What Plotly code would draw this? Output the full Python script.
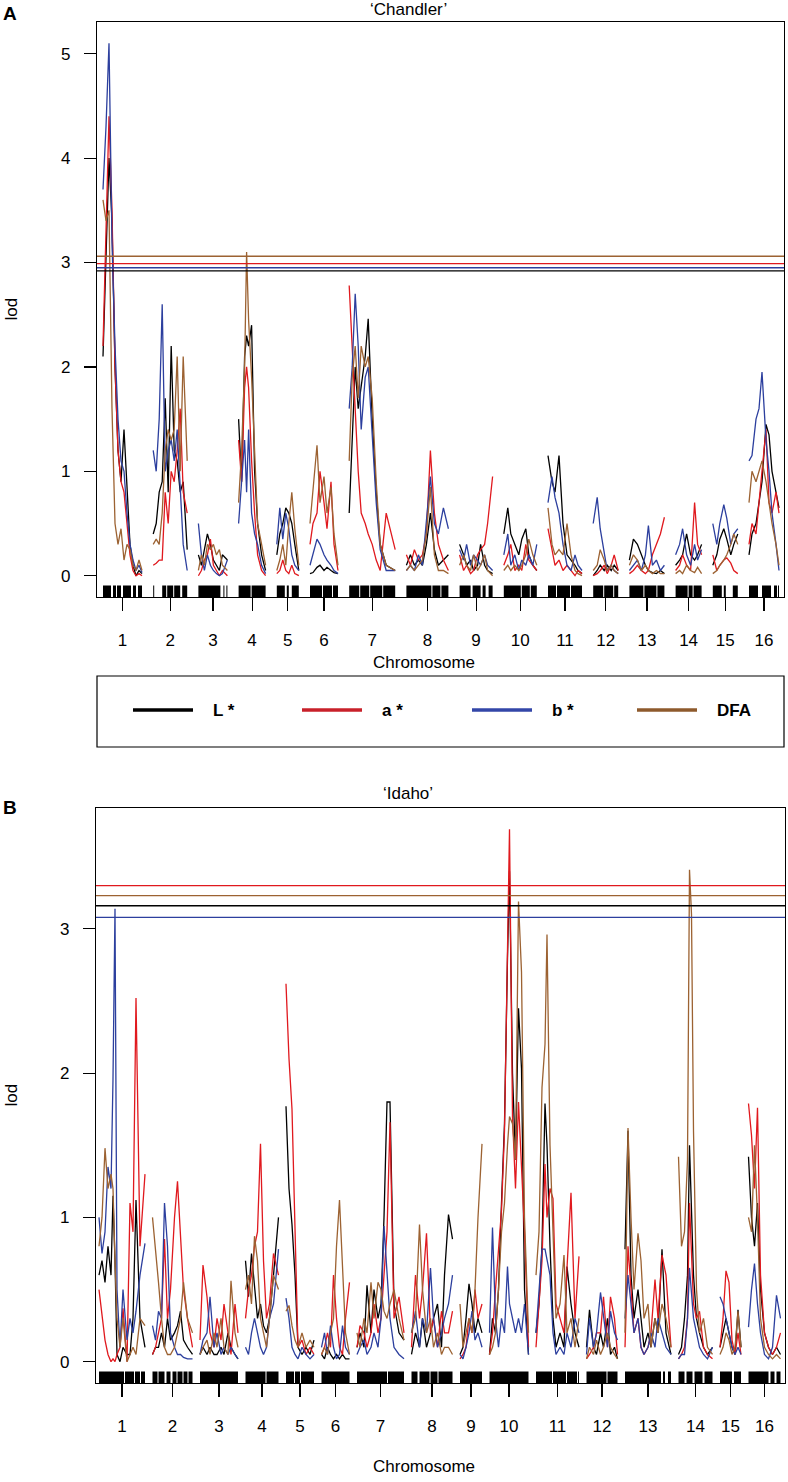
import plotly.graph_objects as go

W, H = 788, 1482
FONT = "Liberation Sans, Arial, Helvetica, sans-serif"
SERIES = ["L *", "a *", "b *", "DFA"]
LINE_COLORS = ["#000000", "#E0191E", "#2C3F9E", "#9C6232"]
LEGEND_COLORS = ["#000000", "#C8202A", "#3346A8", "#8E5A2C"]
CHROMS = [str(i) for i in range(1, 17)]

# ---------------- Panel A : 'Chandler' ----------------
A_title = "\u2018Chandler\u2019"
A_chr_len = [39, 34, 29, 27, 22, 28, 46, 42, 33, 33, 34, 25, 35, 26, 25, 30]
A_gap = 11.2
A_pos = [
    "0 3 6 9 12 15 18 21 24 27 30 33 36 39",
    "0 3 6 9 12 15 18 21 24 27 30 34",
    "0 3 6 9 12 15 18 21 24 29",
    "0 3 6 8 10 13 16 19 23 27",
    "0 3 6 9 12 15 18 22",
    "0 3 7 10 14 17 21 24 28",
    "0 3 6 9 12 16 19 23 27 31 37 46",
    "0 4 8 12 16 20 24 28 32 37 42",
    "0 4 7 11 14 18 21 25 28 33",
    "0 4 7 11 15 18 22 25 29 33",
    "0 4 7 11 15 19 23 27 30 34",
    "0 4 7 11 14 18 21 25",
    "0 4 8 12 16 19 23 27 31 35",
    "0 4 7 11 15 19 22 26",
    "0 4 7 11 14 18 21 25",
    "0 3 7 10 13 17 20 23 27 30",
]
A_L = [
    "2.1 3.0 4.0 3.4 2.0 1.2 0.9 1.4 0.8 0.3 0.1 0.0 0.05 0.02",
    "0.4 0.5 0.8 0.9 1.7 0.8 2.2 1.2 1.1 0.8 0.9 0.25",
    "0.2 0.1 0.25 0.4 0.3 0.15 0.1 0.05 0.2 0.15",
    "1.5 0.9 2.1 2.3 2.2 2.4 1.0 0.5 0.2 0.05",
    "0.2 0.4 0.5 0.65 0.6 0.5 0.3 0.05",
    "0.02 0.03 0.08 0.1 0.05 0.08 0.05 0.03 0.02",
    "0.6 1.3 2.0 1.6 1.8 2.1 2.46 1.5 0.8 0.3 0.1 0.05",
    "0.1 0.2 0.1 0.15 0.1 0.3 0.6 0.25 0.1 0.15 0.2",
    "0.3 0.2 0.1 0.15 0.05 0.1 0.3 0.1 0.05 0.02",
    "0.4 0.65 0.4 0.3 0.2 0.35 0.45 0.2 0.1 0.05",
    "1.15 0.9 0.8 1.15 0.5 0.2 0.15 0.1 0.05 0.02",
    "0.0 0.05 0.1 0.05 0.1 0.05 0.1 0.05",
    "0.15 0.35 0.3 0.2 0.1 0.05 0.03 0.02 0.05 0.02",
    "0.1 0.15 0.2 0.4 0.2 0.15 0.2 0.3",
    "0.1 0.2 0.35 0.45 0.35 0.2 0.3 0.4",
    "0.2 0.4 0.5 0.7 0.9 1.45 1.35 1.0 0.8 0.65",
]
A_a = [
    "2.2 3.3 4.4 3.5 2.0 1.2 0.9 0.8 0.5 0.2 0.05 0.0 0.02 0.0",
    "0.1 0.12 0.15 0.15 0.8 0.5 1.0 0.9 1.2 1.6 0.8 0.6",
    "0.0 0.05 0.15 0.2 0.35 0.1 0.05 0.0 0.05 0.0",
    "1.3 0.9 1.8 2.0 1.8 1.1 0.6 0.2 0.05 0.0",
    "0.02 0.05 0.15 0.05 0.02 0.1 0.02 0.0",
    "0.3 0.5 0.6 1.0 0.7 0.45 0.9 0.3 0.05",
    "2.78 2.2 1.6 1.0 0.6 0.5 0.4 0.3 0.15 0.05 0.6 0.25",
    "0.2 0.1 0.25 0.15 0.2 0.4 1.2 0.6 0.3 0.15 0.05",
    "0.2 0.05 0.1 0.02 0.05 0.2 0.25 0.3 0.5 0.95",
    "0.1 0.2 0.3 0.05 0.1 0.05 0.3 0.15 0.1 0.05",
    "0.45 0.25 0.1 0.15 0.05 0.1 0.05 0.0 0.05 0.02",
    "0.0 0.02 0.05 0.1 0.02 0.1 0.2 0.05",
    "0.02 0.05 0.1 0.05 0.02 0.05 0.2 0.3 0.4 0.56",
    "0.05 0.1 0.2 0.1 0.05 0.7 0.3 0.2",
    "0.2 0.05 0.1 0.15 0.17 0.12 0.05 0.02",
    "0.3 0.5 0.4 0.7 1.0 1.4 0.7 0.6 0.8 0.6",
]
A_b = [
    "3.7 4.3 5.1 3.2 2.2 1.5 1.1 1.0 0.6 0.3 0.15 0.05 0.1 0.03",
    "1.2 1.0 1.5 2.6 1.0 1.2 1.3 1.1 1.4 0.9 0.3 0.05",
    "0.5 0.2 0.05 0.2 0.1 0.05 0.02 0.0 0.02 0.15",
    "0.5 0.9 1.3 0.8 1.4 0.6 0.4 0.3 0.1 0.02",
    "0.3 0.65 0.35 0.6 0.45 0.2 0.1 0.05",
    "0.1 0.2 0.35 0.3 0.2 0.15 0.1 0.05 0.02",
    "1.6 2.0 2.7 2.2 1.4 1.9 2.0 1.4 0.7 0.25 0.05 0.05",
    "0.05 0.1 0.05 0.2 0.1 0.5 0.95 0.5 0.4 0.65 0.45",
    "0.25 0.15 0.3 0.1 0.2 0.15 0.1 0.2 0.1 0.05",
    "0.2 0.4 0.1 0.2 0.05 0.15 0.1 0.2 0.1 0.3",
    "0.7 0.95 0.75 0.6 0.3 0.1 0.05 0.2 0.1 0.05",
    "0.5 0.75 0.45 0.2 0.05 0.1 0.05 0.02",
    "0.05 0.1 0.15 0.05 0.2 0.48 0.1 0.15 0.05 0.1",
    "0.2 0.3 0.45 0.2 0.1 0.3 0.15 0.25",
    "0.5 0.3 0.5 0.68 0.55 0.3 0.4 0.45",
    "1.1 1.15 1.5 1.6 1.95 1.3 1.0 0.6 0.3 0.05",
]
A_DFA = [
    "3.6 3.4 3.5 1.6 0.5 0.3 0.45 0.15 0.3 0.25 0.1 0.05 0.15 0.05",
    "0.3 0.35 0.3 0.6 1.2 1.4 1.3 1.4 2.1 1.0 2.1 1.1",
    "0.05 0.2 0.1 0.3 0.25 0.3 0.2 0.25 0.1 0.05",
    "0.7 1.2 2.0 3.1 2.45 1.9 1.2 0.5 0.3 0.1",
    "0.05 0.15 0.3 0.1 0.5 0.8 0.45 0.1",
    "0.5 0.8 1.25 0.7 0.95 0.6 0.85 0.4 0.1",
    "1.1 1.9 2.2 1.7 2.2 2.0 2.1 1.7 0.9 0.3 0.1 0.05",
    "0.05 0.1 0.05 0.1 0.15 0.4 0.85 0.2 0.05 0.05 0.02",
    "0.1 0.2 0.1 0.05 0.2 0.05 0.1 0.2 0.05 0.0",
    "0.05 0.1 0.05 0.1 0.05 0.1 0.2 0.35 0.2 0.1",
    "0.65 0.3 0.2 0.25 0.2 0.5 0.2 0.05 0.02 0.0",
    "0.05 0.1 0.25 0.15 0.05 0.1 0.05 0.02",
    "0.1 0.2 0.15 0.05 0.1 0.05 0.02 0.05 0.02 0.02",
    "0.02 0.05 0.02 0.1 0.05 0.03 0.08 0.02",
    "0.02 0.05 0.1 0.15 0.2 0.3 0.4 0.3",
    "0.7 1.0 0.9 1.0 1.1 0.9 0.7 0.5 0.3 0.1",
]
A_markers = [
    "0-8 10-13 14-18 20-28 30-33 35-39",
    "0-1 9-13 14-20 21-27 29-34",
    "0-22 25-26 28-29",
    "0-12 13-27",
    "0-8 10-12 15-22",
    "0-12 13-22 23-28",
    "0-10 11-20 21-33 34-46",
    "0-25 26-34 35-42",
    "0-11 13-21 23-26 29-33",
    "0-17 18-26 27-33",
    "0-8 9-22 23-34",
    "0-10 11-20 21-25",
    "0-14 15-27 28-35",
    "0-12 13-17 18-26",
    "0-9 11-13 20-25",
    "0-9 13-22 25-28 29-30",
]
A_thresholds = [2.92, 2.99, 2.95, 3.06]   # L*, a*, b*, DFA
A_lod_max = 5.1

# ---------------- Panel B : 'Idaho' ----------------
B_title = "\u2018Idaho\u2019"
B_chr_len = [46, 40, 38, 33, 28, 28, 47, 41, 22, 39, 43, 31, 46, 34, 21, 32]
B_gap = 7.5
B_pos = [
    "0 3 6 9 12 14 16 18 21 24 28 31 34 37 41 46",
    "0 3 6 9 12 15 18 22 25 28 31 35 40",
    "0 3 7 10 14 17 21 24 28 31 35 38",
    "0 3 6 9 12 15 18 21 24 28 33",
    "0 3 6 9 12 16 20 24 28",
    "0 3 6 9 12 15 18 21 24 28",
    "0 3 7 10 14 17 21 24 27 30 33 37 42 47",
    "0 4 8 11 15 19 22 26 30 33 37 41",
    "0 3 6 9 12 15 18 22",
    "0 3 6 9 12 15 18 20 23 26 29 32 35 39",
    "0 3 6 9 11 14 17 20 24 28 31 35 39 43",
    "0 3 7 10 14 17 21 24 28 31",
    "0 3 6 9 13 16 19 23 26 30 33 37 41 46",
    "0 3 6 9 11 13 15 18 21 25 29 34",
    "0 3 6 9 12 15 18 21",
    "0 3 6 9 12 16 20 24 28 32",
]
B_L = [
    "0.6 0.7 0.55 0.8 0.6 1.15 0.7 0.05 0.0 0.1 0.05 0.05 0.3 1.12 0.3 0.1",
    "0.05 0.1 0.1 0.2 0.1 0.3 0.15 0.2 0.25 0.35 0.15 0.1 0.05",
    "0.05 0.1 0.05 0.1 0.05 0.05 0.1 0.05 0.2 0.1 0.05 0.02",
    "0.7 0.45 0.75 0.5 0.3 0.4 0.25 0.2 0.3 0.6 1.0",
    "1.77 1.2 0.95 0.6 0.1 0.05 0.1 0.05 0.15",
    "0.05 0.02 0.1 0.05 0.02 0.05 0.02 0.05 0.02 0.02",
    "0.1 0.2 0.1 0.53 0.2 0.5 0.3 0.4 1.0 1.8 1.8 0.4 0.2 0.15",
    "0.05 0.2 0.1 0.3 0.1 0.2 0.3 0.4 0.1 0.6 1.02 0.85",
    "0.05 0.1 0.3 0.54 0.4 0.2 0.3 0.2",
    "0.05 0.3 0.2 0.5 1.1 1.65 2.8 3.4 2.0 1.4 2.45 2.03 0.5 0.05",
    "0.2 0.4 0.8 1.79 1.5 0.8 0.3 0.1 0.2 0.1 0.66 0.4 0.2 0.1",
    "0.1 0.36 0.1 0.05 0.2 0.1 0.3 0.05 0.1 0.02",
    "0.78 1.6 0.6 0.3 0.5 0.3 0.1 0.2 0.1 0.3 0.2 0.78 0.2 0.05",
    "0.05 0.1 0.3 0.6 1.5 1.0 0.6 0.3 0.2 0.1 0.05 0.1",
    "0.1 0.2 0.3 0.2 0.1 0.05 0.36 0.1",
    "1.42 1.0 0.8 1.1 0.5 0.2 0.1 0.05 0.1 0.05",
]
B_a = [
    "0.5 0.3 0.15 0.05 0.0 0.02 0.0 0.05 0.1 0.37 0.0 1.1 0.9 2.52 0.8 1.3",
    "0.05 0.1 0.2 0.3 0.85 0.3 0.5 1.0 1.25 0.9 0.5 0.3 0.1",
    "0.15 0.67 0.45 0.2 0.1 0.3 0.15 0.4 0.2 0.05 0.4 0.2",
    "0.3 0.5 0.6 0.8 0.9 1.51 0.7 0.3 0.4 0.75 0.6",
    "2.62 2.1 1.75 0.9 0.1 0.15 0.05 0.1 0.05",
    "0.05 0.1 0.2 0.1 0.6 0.3 0.1 0.05 0.3 0.55",
    "0.1 0.25 0.2 0.1 0.2 0.4 0.2 0.3 0.6 0.9 1.66 0.3 0.45 0.2",
    "0.1 0.6 0.3 0.5 0.89 0.2 0.3 0.1 0.35 0.2 0.2 0.35",
    "0.02 0.05 0.1 0.3 0.2 0.5 0.3 0.4",
    "0.05 0.2 0.5 0.8 1.05 1.6 2.9 3.69 1.7 1.2 1.8 1.4 0.9 0.1",
    "0.1 0.4 0.7 1.37 1.0 1.2 1.13 0.4 0.3 0.2 0.65 1.17 0.3 0.73",
    "0.02 0.05 0.1 0.2 0.2 0.45 0.1 0.45 0.3 0.05",
    "0.1 0.8 0.5 0.2 0.3 0.1 0.05 0.1 0.2 0.57 0.3 0.74 0.6 0.1",
    "0.02 0.05 0.1 0.3 1.1 0.8 0.4 0.3 0.35 0.1 0.05 0.02",
    "0.1 0.3 0.63 0.55 0.15 0.05 0.2 0.05",
    "1.79 1.57 1.2 1.76 0.6 0.2 0.1 0.05 0.1 0.2",
]
B_b = [
    "1.0 0.75 0.9 1.35 1.2 1.96 3.14 0.5 0.1 0.5 0.15 0.3 0.2 0.35 0.6 0.82",
    "0.25 0.15 0.35 0.3 1.1 0.8 0.2 0.1 0.05 0.05 0.03 0.02 0.02",
    "0.05 0.15 0.2 0.45 0.1 0.2 0.05 0.1 0.05 0.1 0.05 0.02",
    "0.1 0.05 0.2 0.3 0.2 0.1 0.05 0.1 0.3 0.4 0.78",
    "0.44 0.3 0.1 0.05 0.02 0.1 0.05 0.02 0.05",
    "0.1 0.2 0.05 0.25 0.1 0.02 0.05 0.25 0.1 0.05",
    "0.05 0.1 0.15 0.05 0.1 0.2 0.1 0.3 0.94 0.6 0.3 0.1 0.05 0.02",
    "0.2 0.35 0.1 0.3 0.2 0.65 0.3 0.1 0.2 0.3 0.4 0.6",
    "0.05 0.02 0.1 0.2 0.35 0.15 0.2 0.1",
    "0.2 0.93 0.3 0.1 0.3 0.2 0.66 0.4 0.3 0.2 0.3 0.2 0.4 0.05",
    "0.2 0.5 0.78 0.78 0.7 0.6 0.2 0.05 0.1 0.05 0.2 0.1 0.3 0.2",
    "0.05 0.3 0.1 0.2 0.48 0.3 0.1 0.35 0.2 0.15",
    "0.3 0.6 0.4 0.2 0.3 0.1 0.05 0.1 0.2 0.1 0.3 0.2 0.1 0.05",
    "0.02 0.05 0.05 0.3 0.65 0.5 0.3 0.2 0.1 0.05 0.02 0.1",
    "0.45 0.4 0.3 0.2 0.1 0.05 0.1 0.05",
    "0.24 0.5 0.68 0.4 0.2 0.05 0.02 0.1 0.46 0.3",
]
B_DFA = [
    "0.8 1.0 1.48 1.2 1.3 1.2 0.7 0.3 0.1 0.3 0.0 0.05 0.1 0.05 0.3 0.25",
    "1.0 0.8 0.55 0.3 0.1 0.05 0.05 0.1 0.2 0.3 0.55 0.3 0.2",
    "0.05 0.1 0.15 0.05 0.2 0.1 0.3 0.1 0.05 0.56 0.2 0.1",
    "0.5 0.6 0.4 0.87 0.7 0.3 0.2 0.1 0.3 0.6 0.5",
    "0.35 0.39 0.25 0.15 0.1 0.2 0.1 0.15 0.1",
    "0.05 0.1 0.05 0.2 0.3 0.8 1.12 0.6 0.2 0.05",
    "0.2 0.1 0.3 0.2 0.55 0.3 0.55 0.5 0.35 0.3 0.4 0.5 0.3 0.15",
    "0.2 0.3 0.95 0.5 0.2 0.3 0.1 0.2 0.05 0.1 0.1 0.05",
    "0.4 0.1 0.2 0.3 0.2 0.5 1.0 1.51",
    "0.05 0.1 0.2 0.5 0.9 1.1 1.5 1.7 1.65 1.4 3.19 2.7 1.0 0.2",
    "0.6 0.9 1.9 2.2 2.96 1.5 0.9 0.3 0.4 0.74 0.2 0.3 0.1 0.3",
    "0.02 0.1 0.05 0.15 0.05 0.1 0.2 0.1 0.05 0.02",
    "0.2 1.62 1.0 0.5 0.89 0.7 0.3 0.4 0.1 0.3 0.2 0.4 0.3 0.1",
    "1.42 0.8 0.9 1.4 3.41 3.1 1.6 0.5 0.2 0.3 0.1 0.05",
    "0.05 0.1 0.2 0.15 0.05 0.1 0.35 0.1",
    "1.0 0.9 1.5 1.0 0.3 0.1 0.05 0.02 0.05 0.02",
]
B_markers = [
    "0-25 26-35 36-41 42-46",
    "0-5 6-12 14-18 20-24 25-30 31-35 36-40",
    "0-38",
    "0-20 21-33",
    "0-8 9-14 15-28",
    "0-28",
    "0-30 31-47",
    "0-6 8-18 19-26 27-41",
    "0-22",
    "0-39",
    "0-16 17-30 31-41 42-43",
    "0-20 21-31",
    "0-36 38-40 43-46",
    "0-6 8-14 16-24 26-34",
    "0-12 14-21",
    "0-20 22-26 28-32",
]
B_thresholds = [3.16, 3.30, 3.08, 3.23]   # L*, a*, b*, DFA
B_lod_max = 3.69


def parse(s):
    return [float(v) for v in s.split()]


def chrom_starts(lengths, gap):
    starts, s = [], 0.0
    for L in lengths:
        starts.append(s)
        s += L + gap
    return starts


def build_line(pos, vals, starts):
    xs, ys = [], []
    for c in range(len(starts)):
        p, v = parse(pos[c]), parse(vals[c])
        n = min(len(p), len(v))
        xs += [starts[c] + q for q in p[:n]] + [None]
        ys += v[:n] + [None]
    return xs, ys


def build_rug(blocks, starts, y0, y1):
    xs, ys = [], []
    for c in range(len(starts)):
        for b in blocks[c].split():
            a, e = (float(t) for t in b.split("-"))
            x0, x1 = starts[c] + a, starts[c] + e
            xs += [x0, x1, x1, x0, x0, None]
            ys += [y0, y0, y1, y1, y0, None]
    return xs, ys


def px_x(x):
    return x / W


def px_y(y):
    return 1 - y / H


panels = [
    dict(title=A_title, lens=A_chr_len, gap=A_gap, pos=A_pos,
         series=[A_L, A_a, A_b, A_DFA], markers=A_markers, thr=A_thresholds,
         lmax=A_lod_max, box=(97, 22, 784, 597), pad=(6, 5), yt=[0, 1, 2, 3, 4, 5],
         sfx="", title_y=10, xlab_y=662, lab="A", lab_y=13),
    dict(title=B_title, lens=B_chr_len, gap=B_gap, pos=B_pos,
         series=[B_L, B_a, B_b, B_DFA], markers=B_markers, thr=B_thresholds,
         lmax=B_lod_max, box=(96, 808, 785, 1383), pad=(3, 4.5), yt=[0, 1, 2, 3],
         sfx="2", title_y=793, xlab_y=1466, lab="B", lab_y=807),
]

fig = go.Figure()
shapes, annotations = [], []
layout_axes = {}


def ann(text, x, y, size=17, bold=False, angle=0, xanchor="center"):
    if bold:
        text = "<b>" + text + "</b>"
    annotations.append(dict(text=text, x=px_x(x), y=px_y(y), xref="paper", yref="paper",
                            showarrow=False, xanchor=xanchor, yanchor="middle",
                            textangle=angle, font=dict(size=size, color="black", family=FONT)))


for P in panels:
    starts = chrom_starts(P["lens"], P["gap"])
    end = starts[-1] + P["lens"][-1]
    mids = [s + L / 2 for s, L in zip(starts, P["lens"])]
    ylo = -0.04 * P["lmax"]
    yhi = P["lmax"] * 1.04
    xa, ya = "x" + P["sfx"], "y" + P["sfx"]

    # marker rug along the bottom
    rx, ry = build_rug(P["markers"], starts, ylo, ylo + 0.02 * (yhi - ylo))
    fig.add_trace(go.Scatter(x=rx, y=ry, mode="lines", fill="toself", fillcolor="black",
                             line=dict(width=0, color="black"), xaxis=xa, yaxis=ya,
                             showlegend=False, hoverinfo="skip"))
    # LOD curves
    for name, vals, col in zip(SERIES, P["series"], LINE_COLORS):
        lx, ly = build_line(P["pos"], vals, starts)
        fig.add_trace(go.Scatter(x=lx, y=ly, mode="lines", name=name,
                                 line=dict(color=col, width=1.3),
                                 xaxis=xa, yaxis=ya, showlegend=False))
    # significance thresholds
    for t, col in zip(P["thr"], LINE_COLORS):
        shapes.append(dict(type="line", xref=xa + " domain", yref=ya, x0=0, x1=1,
                           y0=t, y1=t, line=dict(color=col, width=1.3), layer="above"))

    x0, y0, x1, y1 = P["box"]
    axis_common = dict(showline=True, mirror=True, linecolor="black", linewidth=1.2,
                       showgrid=False, zeroline=False, ticks="outside", tickcolor="black",
                       tickwidth=1.2, tickfont=dict(size=17, color="black", family=FONT))
    layout_axes["xaxis" + P["sfx"]] = dict(
        axis_common, domain=[px_x(x0), px_x(x1)],
        range=[-P["pad"][0], end + P["pad"][1]], tickmode="array",
        tickvals=mids, ticktext=CHROMS, ticklen=13, ticklabelstandoff=14,
        anchor=ya)
    layout_axes["yaxis" + P["sfx"]] = dict(
        axis_common, domain=[px_y(y1), px_y(y0)], range=[ylo, yhi],
        tickmode="array", tickvals=P["yt"], ticktext=[str(v) for v in P["yt"]],
        ticklen=12, ticklabelstandoff=10, anchor=xa)

    ann(P["title"], 408, P["title_y"])
    ann("Chromosome", 424, P["xlab_y"])
    ann("lod", 11, (y0 + y1) / 2, angle=-90)
    ann(P["lab"], 10, P["lab_y"], size=19, bold=True)

# legend box under panel A
shapes.append(dict(type="rect", xref="paper", yref="paper", x0=px_x(97), x1=px_x(784),
                   y0=px_y(747), y1=px_y(676), line=dict(color="black", width=1.2)))
leg_x = [133, 302, 472, 637]
for name, col, lx in zip(SERIES, LEGEND_COLORS, leg_x):
    shapes.append(dict(type="line", xref="paper", yref="paper", x0=px_x(lx), x1=px_x(lx + 60),
                       y0=px_y(710), y1=px_y(710), line=dict(color=col, width=3.5)))
    ann(name, lx + 78, 710, size=17, bold=True, xanchor="left")

fig.update_layout(
    width=W, height=H, margin=dict(l=0, r=0, t=0, b=0),
    paper_bgcolor="white", plot_bgcolor="white",
    font=dict(family=FONT, size=17, color="black"),
    shapes=shapes, annotations=annotations, showlegend=False,
    **layout_axes,
)

# remove the default page margin so the figure sits flush in the window
fig.write_html(
    "out.html",
    config={"displayModeBar": False, "staticPlot": True},
    post_script="document.body.style.margin='0';document.body.style.overflow='hidden';"
                "document.documentElement.style.overflow='hidden';",
)
